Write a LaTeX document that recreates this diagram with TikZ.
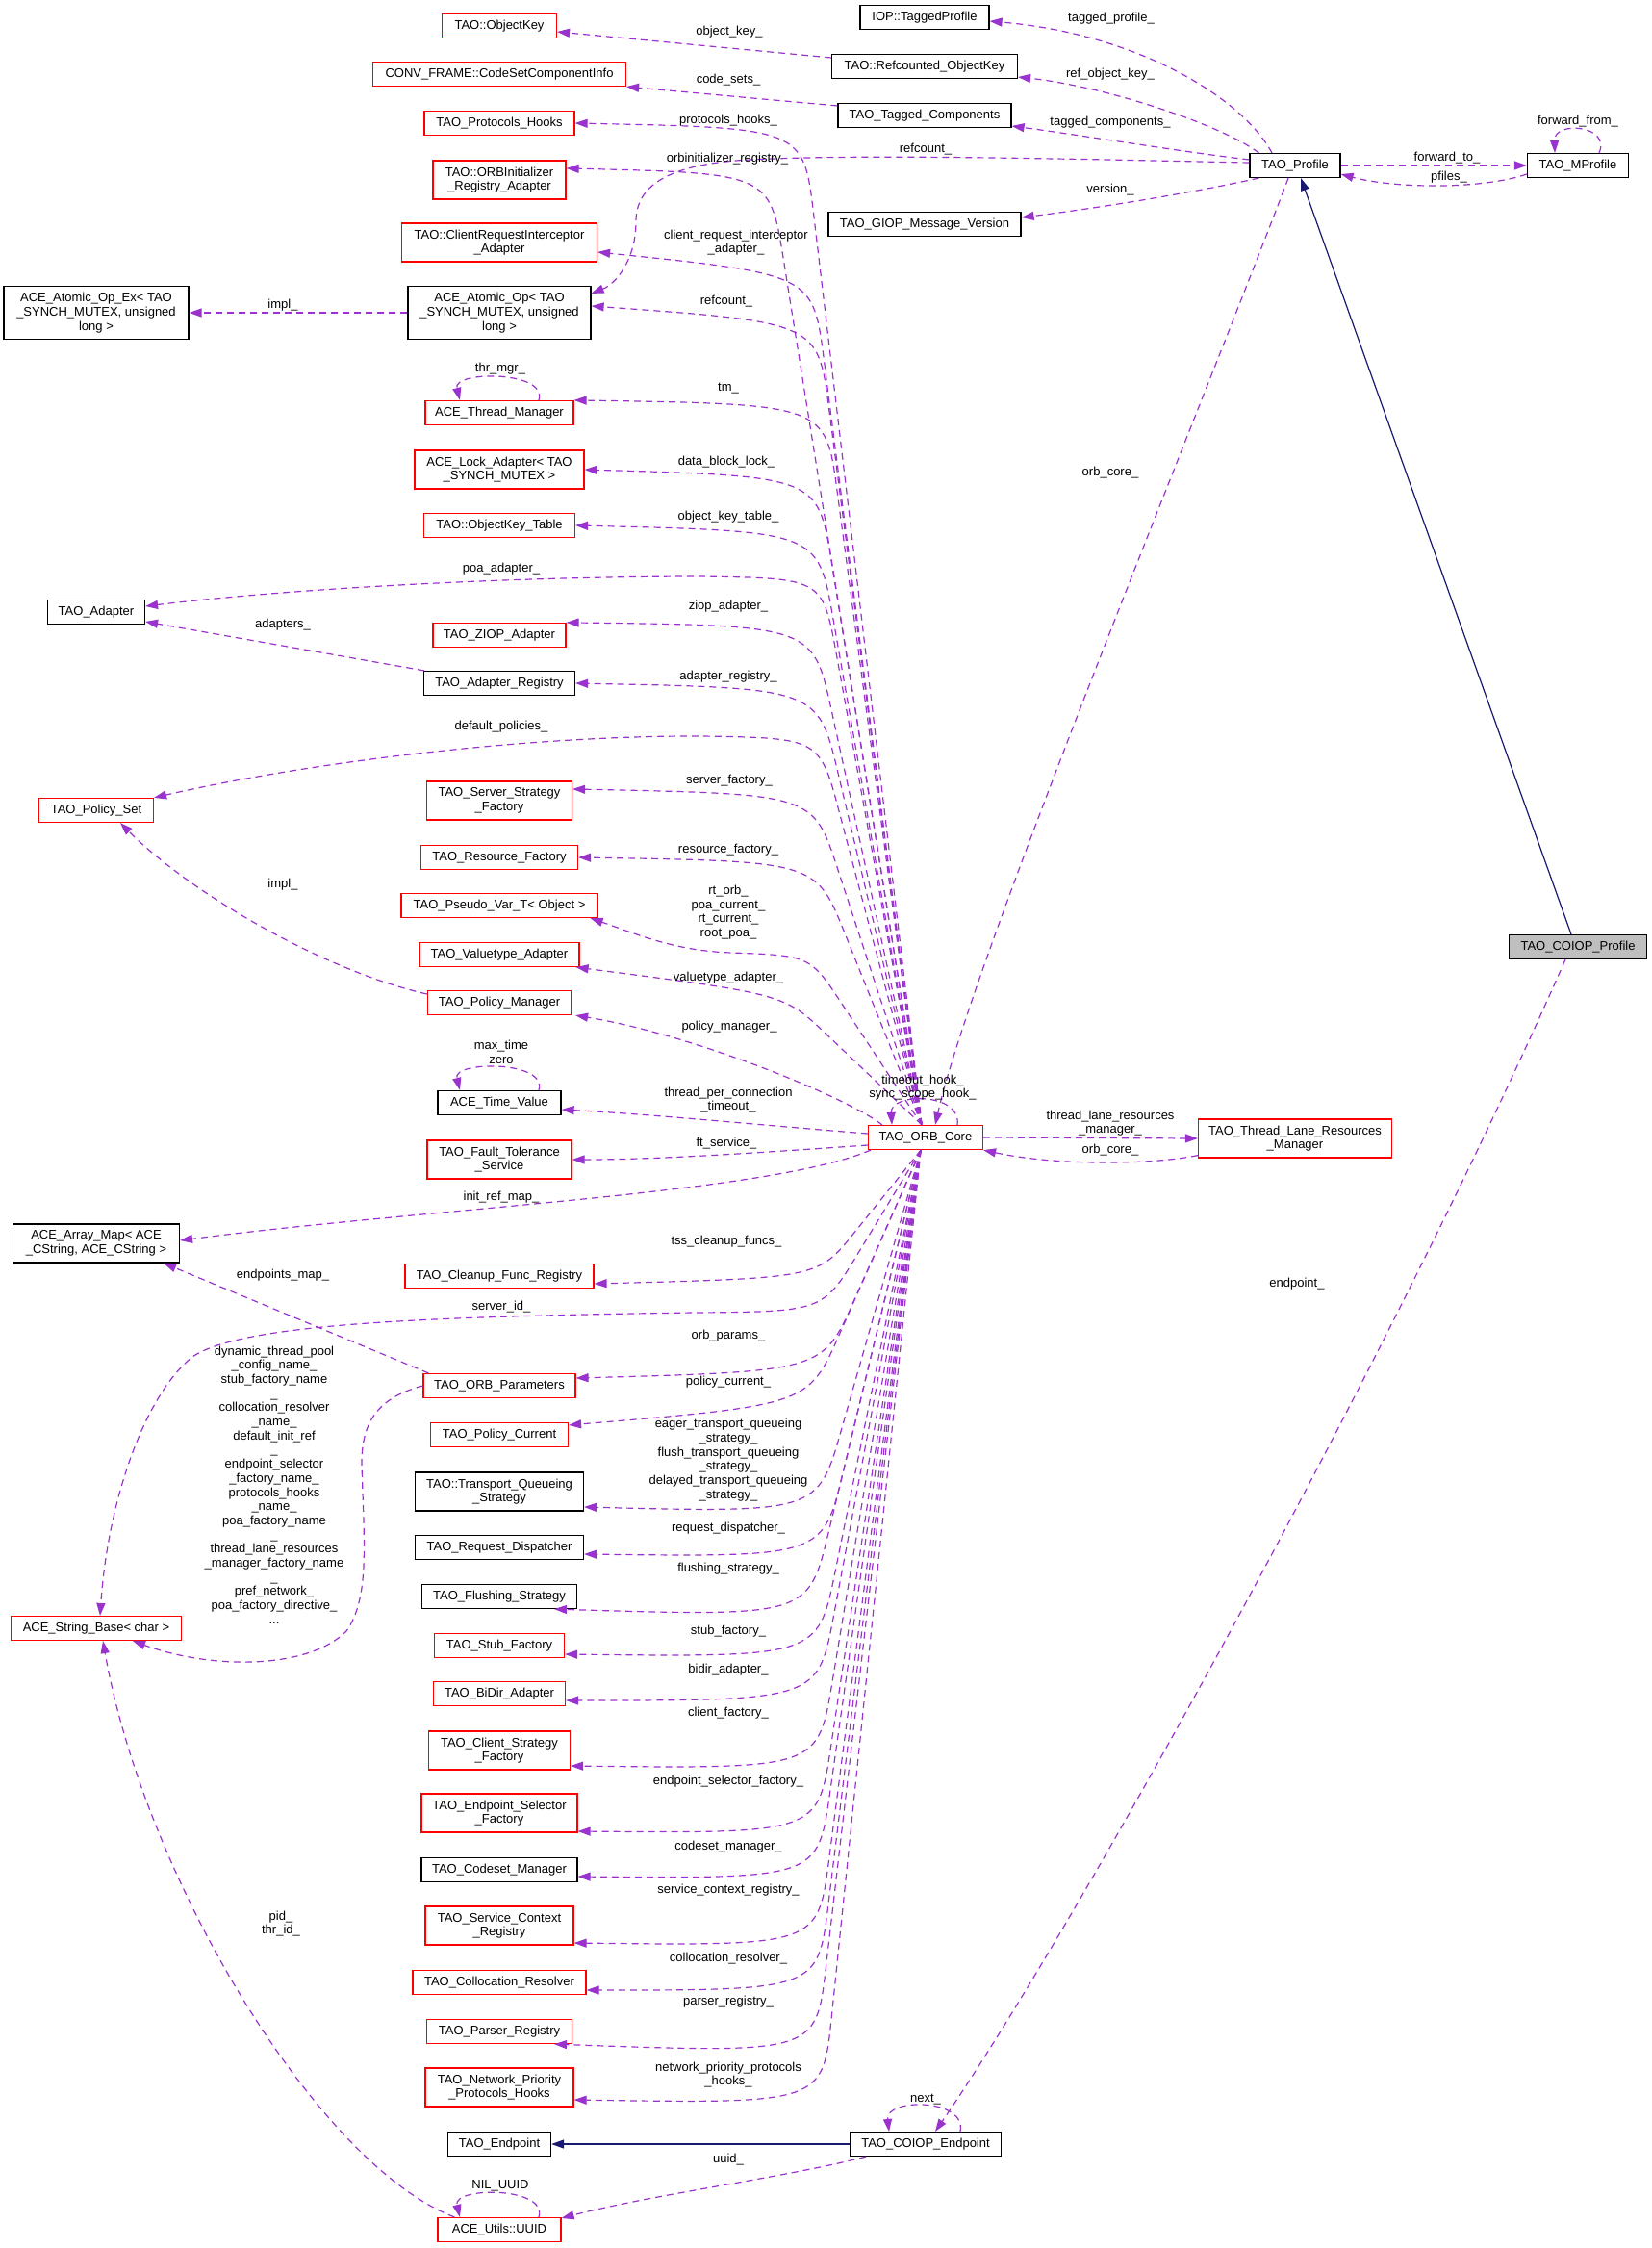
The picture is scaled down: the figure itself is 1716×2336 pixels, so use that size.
\documentclass[tikz,border=0pt]{standalone}
\usepackage{fontspec}
\setmainfont{Liberation Sans}
\usetikzlibrary{arrows.meta,calc}
\definecolor{edgepurple}{HTML}{9A32CD}
\definecolor{midblue}{HTML}{191970}
\definecolor{boxgray}{HTML}{BFBFBF}
\begin{document}
\begin{tikzpicture}[x=1pt,y=-1pt,
  every node/.style={font=\fontsize{13}{14.7}\selectfont},
  cls/.style={draw=black, line width=1.2pt, inner xsep=3pt, inner ysep=2pt, minimum height=25pt, align=center, fill=white},
  redcls/.style={cls, draw=red},
  two/.style={minimum height=40pt},
  three/.style={minimum height=55pt},
  lbl/.style={inner sep=0pt, align=center},
  usearrow/.style={color=edgepurple, line width=1.2pt, dash pattern=on 7pt off 5pt, -{Triangle[length=13pt,width=9pt]}},
  inheritarrow/.style={color=midblue, line width=1.2pt, -{Triangle[length=13pt,width=9pt]}},
]
\fill[white] (0,0) rectangle (1716,2336);
\useasboundingbox (0,0) rectangle (1716,2336);

% ---------- column 2 ----------
\node[redcls, minimum width=119pt] (n_okey) at (519,27) {TAO::ObjectKey};
\node[redcls, minimum width=263pt] (n_codeset) at (519,77) {CONV\_FRAME::CodeSetComponentInfo};
\node[redcls, minimum width=156pt] (n_phooks) at (519,128) {TAO\_Protocols\_Hooks};
\node[redcls, two, minimum width=138pt] (n_orbinit) at (519,187) {TAO::ORBInitializer\\\_Registry\_Adapter};
\node[redcls, two, minimum width=203pt] (n_cri) at (519,252) {TAO::ClientRequestInterceptor\\\_Adapter};
\node[cls, three, minimum width=190pt] (n_atomic) at (519,325) {ACE\_Atomic\_Op< TAO\\\_SYNCH\_MUTEX, unsigned\\long >};
\node[cls, three, minimum width=192pt] (n_atomicex) at (100,325) {ACE\_Atomic\_Op\_Ex< TAO\\\_SYNCH\_MUTEX, unsigned\\long >};
\node[redcls, minimum width=154pt] (n_thrmgr) at (519,429) {ACE\_Thread\_Manager};
\node[redcls, two, minimum width=176pt] (n_lock) at (519,488) {ACE\_Lock\_Adapter< TAO\\\_SYNCH\_MUTEX >};
\node[redcls, minimum width=157pt] (n_oktable) at (519,546) {TAO::ObjectKey\_Table};
\node[cls, minimum width=101pt] (n_adapter) at (100,636) {TAO\_Adapter};
\node[redcls, minimum width=138pt] (n_ziop) at (519,660) {TAO\_ZIOP\_Adapter};
\node[cls, minimum width=157pt] (n_adreg) at (519,710) {TAO\_Adapter\_Registry};
\node[redcls, minimum width=119pt] (n_polset) at (100,842) {TAO\_Policy\_Set};
\node[redcls, two, minimum width=151pt] (n_ssf) at (519,832) {TAO\_Server\_Strategy\\\_Factory};
\node[redcls, minimum width=163pt] (n_resf) at (519,891) {TAO\_Resource\_Factory};
\node[redcls, minimum width=204pt] (n_pseudo) at (519,941) {TAO\_Pseudo\_Var\_T< Object >};
\node[redcls, minimum width=166pt] (n_valuetype) at (519,992) {TAO\_Valuetype\_Adapter};
\node[redcls, minimum width=149pt] (n_polmgr) at (519,1042) {TAO\_Policy\_Manager};
\node[cls, minimum width=128pt] (n_time) at (519,1146) {ACE\_Time\_Value};
\node[redcls, two, minimum width=150pt] (n_ft) at (519,1205) {TAO\_Fault\_Tolerance\\\_Service};
\node[cls, two, minimum width=173pt] (n_arrmap) at (100,1292) {ACE\_Array\_Map< ACE\\\_CString, ACE\_CString >};
\node[redcls, minimum width=196pt] (n_cleanup) at (519,1326) {TAO\_Cleanup\_Func\_Registry};
\node[redcls, minimum width=158pt] (n_orbparams) at (519,1440) {TAO\_ORB\_Parameters};
\node[redcls, minimum width=143pt] (n_polcur) at (519,1491) {TAO\_Policy\_Current};
\node[cls, two, minimum width=175pt] (n_tqs) at (519,1550) {TAO::Transport\_Queueing\\\_Strategy};
\node[cls, minimum width=175pt] (n_reqdisp) at (519,1608) {TAO\_Request\_Dispatcher};
\node[cls, minimum width=161pt] (n_flush) at (519,1659) {TAO\_Flushing\_Strategy};
\node[redcls, minimum width=177pt] (n_strbase) at (100,1692) {ACE\_String\_Base< char >};
\node[redcls, minimum width=135pt] (n_stubf) at (519,1710) {TAO\_Stub\_Factory};
\node[redcls, minimum width=137pt] (n_bidir) at (519,1760) {TAO\_BiDir\_Adapter};
\node[redcls, two, minimum width=147pt] (n_csf) at (519,1819) {TAO\_Client\_Strategy\\\_Factory};
\node[redcls, two, minimum width=162pt] (n_esf) at (519,1884) {TAO\_Endpoint\_Selector\\\_Factory};
\node[cls, minimum width=162pt] (n_codesetmgr) at (519,1943) {TAO\_Codeset\_Manager};
\node[redcls, two, minimum width=154pt] (n_scr) at (519,2001) {TAO\_Service\_Context\\\_Registry};
\node[redcls, minimum width=180pt] (n_colres) at (519,2060) {TAO\_Collocation\_Resolver};
\node[redcls, minimum width=151pt] (n_parser) at (519,2111) {TAO\_Parser\_Registry};
\node[redcls, two, minimum width=154pt] (n_netprio) at (519,2169) {TAO\_Network\_Priority\\\_Protocols\_Hooks};
\node[cls, minimum width=107pt] (n_endpoint) at (519,2228) {TAO\_Endpoint};
\node[redcls, minimum width=128pt] (n_uuid) at (519,2317) {ACE\_Utils::UUID};

% ---------- column 3 ----------
\node[cls, minimum width=134pt] (n_tprof) at (961,18) {IOP::TaggedProfile};
\node[cls, minimum width=193pt] (n_rcokey) at (961,69) {TAO::Refcounted\_ObjectKey};
\node[cls, minimum width=180pt] (n_tcomp) at (961,120) {TAO\_Tagged\_Components};
\node[cls, minimum width=200pt] (n_giop) at (961,233) {TAO\_GIOP\_Message\_Version};
\node[redcls, minimum width=119pt] (n_core) at (962,1182) {TAO\_ORB\_Core};
\node[cls, minimum width=157pt] (n_coiopep) at (962,2228) {TAO\_COIOP\_Endpoint};

% ---------- columns 4, 5 ----------
\node[cls, minimum width=94pt] (n_profile) at (1346,172) {TAO\_Profile};
\node[redcls, two, minimum width=201pt] (n_tlrm) at (1346,1183) {TAO\_Thread\_Lane\_Resources\\\_Manager};
\node[cls, minimum width=105pt] (n_mprofile) at (1640,172) {TAO\_MProfile};
\node[cls, fill=boxgray, minimum width=143pt] (n_coiopprof) at (1640,984) {TAO\_COIOP\_Profile};

\coordinate (cu) at ($(n_core.north)+(-4,0)$);
\coordinate (cd) at ($(n_core.south)+(-5,0)$);

% ---------- ORB_Core edges (upper) ----------
\draw[usearrow] (cu) -- ($(835,133)!90pt!(cu)$) .. controls (835,133) .. (n_phooks.east);
\draw[usearrow] (cu) -- ($(800,180)!90pt!(cu)$) .. controls (800,180) .. ($(n_orbinit.east)+(0,-12)$);
\draw[usearrow] (cu) -- ($(845,285)!90pt!(cu)$) .. controls (845,285) .. ($(n_cri.east)+(0,10)$);
\draw[usearrow] (cu) -- ($(850,335)!90pt!(cu)$) .. controls (850,335) .. ($(n_atomic.east)+(0,-7)$);
\draw[usearrow] (cu) -- ($(858,420)!90pt!(cu)$) .. controls (858,420) .. (n_thrmgr.north east);
\draw[usearrow] (cu) -- ($(850,495)!90pt!(cu)$) .. controls (850,495) .. (n_lock.east);
\draw[usearrow] (cu) -- ($(850,552)!90pt!(cu)$) .. controls (850,552) .. (n_oktable.east);
\draw[usearrow] (cu) -- ($(855,601)!80pt!(cu)$) .. controls (855,601) .. (730,599) .. controls (530,599) and (300,612) .. ($(n_adapter.east)+(0,-6)$);
\draw[usearrow] (cu) -- ($(845,650)!90pt!(cu)$) .. controls (845,650) .. (n_ziop.north east);
\draw[usearrow] (cu) -- ($(850,715)!90pt!(cu)$) .. controls (850,715) .. (n_adreg.east);
\draw[usearrow] (cu) -- ($(852,767)!80pt!(cu)$) .. controls (852,767) .. (730,765) .. controls (560,764) and (330,790) .. (n_polset.north east);
\draw[usearrow] (cu) -- ($(845,825)!80pt!(cu)$) .. controls (845,825) .. ($(n_ssf.east)+(0,-12)$);
\draw[usearrow] (cu) -- ($(848,895)!80pt!(cu)$) .. controls (848,895) .. (n_resf.east);
\draw[usearrow] (cu) -- ($(842,993)!60pt!(cu)$) .. controls (842,993) .. (760,990) .. controls (700,988) and (660,970) .. ($(n_pseudo.south east)+(-8,0)$);
\draw[usearrow] (cu) -- ($(815,1033)!60pt!(cu)$) .. controls (815,1033) .. ($(n_valuetype.south east)+(-4,0)$);
\draw[usearrow] ($(n_core.north west)+(15,0)$) .. controls (880,1140) and (720,1075) .. ($(n_polmgr.south east)+(4,0)$);
\draw[usearrow] ($(n_core.west)+(0,-4)$) .. controls (800,1170) and (680,1158) .. ($(n_time.east)+(0,7)$);
\draw[usearrow] ($(n_core.west)+(0,8)$) .. controls (800,1197) and (690,1205) .. (n_ft.east);
\draw[usearrow] ($(n_core.south west)+(3,0)$) .. controls (800,1240) and (450,1255) .. ($(n_arrmap.east)+(0,-3)$);

% ---------- ORB_Core edges (lower) ----------
\draw[usearrow] (cd) -- ($(850,1328)!60pt!(cd)$) .. controls (850,1328) .. ($(n_cleanup.east)+(0,8)$);
\draw[usearrow] (cd) -- ($(855,1363)!70pt!(cd)$) .. controls (855,1363) .. (720,1364) .. controls (450,1368) and (250,1375) .. (200,1410) .. controls (150,1450) and (112,1560) .. ($(n_strbase.north)+(4,0)$);
\draw[usearrow] (cd) -- ($(855,1425)!80pt!(cd)$) .. controls (855,1425) .. ($(n_orbparams.east)+(0,-8)$);
\draw[usearrow] (cd) -- ($(840,1460)!80pt!(cd)$) .. controls (840,1460) .. ($(n_polcur.north east)+(0,3)$);
\draw[usearrow] (cd) -- ($(850,1572)!90pt!(cd)$) .. controls (850,1572) .. ($(n_tqs.east)+(0,16)$);
\draw[usearrow] (cd) -- ($(855,1618)!90pt!(cd)$) .. controls (855,1618) .. ($(n_reqdisp.east)+(0,7)$);
\draw[usearrow] (cd) -- ($(840,1680)!90pt!(cd)$) .. controls (840,1680) .. ($(n_flush.south east)+(-24,0)$);
\draw[usearrow] (cd) -- ($(850,1722)!90pt!(cd)$) .. controls (850,1722) .. ($(n_stubf.east)+(0,9)$);
\draw[usearrow] (cd) -- ($(850,1767)!90pt!(cd)$) .. controls (850,1767) .. ($(n_bidir.east)+(0,7)$);
\draw[usearrow] (cd) -- ($(850,1838)!90pt!(cd)$) .. controls (850,1838) .. ($(n_csf.east)+(0,16)$);
\draw[usearrow] (cd) -- ($(850,1905)!90pt!(cd)$) .. controls (850,1905) .. ($(n_esf.east)+(0,19)$);
\draw[usearrow] (cd) -- ($(850,1952)!90pt!(cd)$) .. controls (850,1952) .. ($(n_codesetmgr.east)+(0,7)$);
\draw[usearrow] (cd) -- ($(850,2022)!90pt!(cd)$) .. controls (850,2022) .. ($(n_scr.east)+(0,18)$);
\draw[usearrow] (cd) -- ($(850,2068)!90pt!(cd)$) .. controls (850,2068) .. ($(n_colres.east)+(0,8)$);
\draw[usearrow] (cd) -- ($(848,2134)!90pt!(cd)$) .. controls (848,2134) .. ($(n_parser.south east)+(-19,0)$);
\draw[usearrow] (cd) -- ($(855,2186)!90pt!(cd)$) .. controls (855,2186) .. ($(n_netprio.east)+(0,13)$);

% ORB_Core self loop
\draw[usearrow] ($(n_core.north)+(33,0)$) .. controls (1000,1135) and (925,1135) .. ($(n_core.north)+(-35,0)$);
% ORB_Core <-> Thread lane
\draw[usearrow] (n_core.east) -- (n_tlrm.west);
\draw[usearrow] ($(n_tlrm.south west)+(0,-3)$) .. controls (1200,1210) and (1100,1212) .. (n_core.south east);

% ---------- other edges ----------
\draw[usearrow] ($(n_rcokey.west)+(0,-9)$) -- ($(n_okey.east)+(0,6)$);
\draw[usearrow] ($(n_tcomp.west)+(0,-10)$) -- (n_codeset.south east);
\draw[usearrow] ($(n_profile.north)+(-24,0)$) .. controls (1290,100) and (1180,35) .. ($(n_tprof.east)+(0,4)$);
\draw[usearrow] ($(n_profile.north west)+(10,0)$) .. controls (1270,130) and (1150,90) .. ($(n_rcokey.east)+(0,11)$);
\draw[usearrow] ($(n_profile.west)+(0,-6)$) .. controls (1230,158) and (1120,140) .. ($(n_tcomp.east)+(0,11)$);
\draw[usearrow] ($(n_profile.west)+(0,-3)$) .. controls (1100,165) and (900,160) .. (780,166) .. controls (700,170) and (661,190) .. (661,230) .. controls (661,270) and (640,295) .. ($(n_atomic.north east)+(0,8)$);
\draw[usearrow] ($(n_profile.south west)+(10,0)$) .. controls (1240,200) and (1150,215) .. ($(n_giop.east)+(0,-7)$);
\draw[usearrow] ($(n_profile.south)+(-7,0)$) .. controls (1250,420) and (1010,1000) .. ($(n_core.north)+(10,0)$);
\draw[usearrow] (n_profile.east) -- (n_mprofile.west);
\draw[usearrow] ($(n_mprofile.west)+(0,9)$) .. controls (1540,197) and (1450,196) .. ($(n_profile.east)+(0,9)$);
\draw[usearrow] ($(n_mprofile.north)+(22,0)$) .. controls (1675,130) and (1615,125) .. ($(n_mprofile.north)+(-24,0)$);
\draw[inheritarrow] ($(n_coiopprof.north)+(-7,0)$) -- ($(n_profile.south)+(6,0)$);
\draw[usearrow] ($(n_coiopprof.south)+(-13,0)$) .. controls (1450,1400) and (1120,2000) .. ($(n_coiopep.north)+(10,0)$);
\draw[usearrow] ($(n_coiopep.north)+(36,0)$) .. controls (1005,2180) and (920,2180) .. ($(n_coiopep.north)+(-38,0)$);
\draw[inheritarrow] (n_coiopep.west) -- (n_endpoint.east);
\draw[usearrow] ($(n_coiopep.south west)+(17,0)$) .. controls (820,2262) and (680,2280) .. ($(n_uuid.east)+(0,-12)$);
\draw[usearrow] ($(n_uuid.north)+(41,0)$) .. controls (570,2272) and (470,2272) .. ($(n_uuid.north)+(-41,0)$);
\draw[usearrow] ($(n_uuid.north west)+(18,0)$) .. controls (330,2250) and (150,1950) .. ($(n_strbase.south)+(7,0)$);
\draw[usearrow] (n_orbparams.west) .. controls (395,1452) and (376,1475) .. (376,1520) .. controls (378,1600) and (385,1660) .. (360,1695) .. controls (320,1735) and (220,1735) .. ($(n_strbase.south)+(38,0)$);
\draw[usearrow] ($(n_orbparams.north west)+(6,0)$) -- ($(n_arrmap.south east)+(-17,0)$);
\draw[usearrow] (n_atomic.west) -- (n_atomicex.east);
\draw[usearrow] ($(n_adreg.north west)+(1,0)$) -- ($(n_adapter.east)+(0,10)$);
\draw[usearrow] ($(n_polmgr.west)+(0,-9)$) .. controls (340,1010) and (200,930) .. ($(n_polset.south)+(25,0)$);
\draw[usearrow] ($(n_thrmgr.north)+(41,0)$) .. controls (570,385) and (470,385) .. ($(n_thrmgr.north)+(-41,0)$);
\draw[usearrow] ($(n_time.north)+(41,0)$) .. controls (570,1102) and (470,1102) .. ($(n_time.north)+(-41,0)$);

% ---------- labels ----------
\node[lbl] (l1) at (1155,19) {tagged\_profile\_};
\node[lbl] (l2) at (1154,77) {ref\_object\_key\_};
\node[lbl] (l3) at (1154,127) {tagged\_components\_};
\node[lbl] (l4) at (962,155) {refcount\_};
\node[lbl] (l5) at (1154,197) {version\_};
\node[lbl] (l6) at (1154,491) {orb\_core\_};
\node[lbl] (l7) at (1504,164) {forward\_to\_};
\node[lbl] (l8) at (1506,184) {pfiles\_};
\node[lbl] (l9) at (1640,126) {forward\_from\_};
\node[lbl] (l10) at (758,33) {object\_key\_};
\node[lbl] (l11) at (757,83) {code\_sets\_};
\node[lbl] (l12) at (757,125) {protocols\_hooks\_};
\node[lbl] (l13) at (756,165) {orbinitializer\_registry\_};
\node[lbl] (l14) at (765,252) {client\_request\_interceptor\\\_adapter\_};
\node[lbl] (l15) at (755,313) {refcount\_};
\node[lbl] (l16) at (757,404) {tm\_};
\node[lbl] (l17) at (755,480) {data\_block\_lock\_};
\node[lbl] (l18) at (757,537) {object\_key\_table\_};
\node[lbl] (l19) at (521,591) {poa\_adapter\_};
\node[lbl] (l20) at (757,630) {ziop\_adapter\_};
\node[lbl] (l21) at (294,649) {adapters\_};
\node[lbl] (l22) at (757,703) {adapter\_registry\_};
\node[lbl] (l23) at (521,755) {default\_policies\_};
\node[lbl] (l24) at (758,811) {server\_factory\_};
\node[lbl] (l25) at (757,883) {resource\_factory\_};
\node[lbl] (l26) at (757,948) {rt\_orb\_\\poa\_current\_\\rt\_current\_\\root\_poa\_};
\node[lbl] (l27) at (757,1016) {valuetype\_adapter\_};
\node[lbl] (l28) at (294,919) {impl\_};
\node[lbl] (l29) at (758,1067) {policy\_manager\_};
\node[lbl] (l30) at (521,1093) {max\_time\\zero};
\node[lbl] (l31) at (757,1143) {thread\_per\_connection\\\_timeout\_};
\node[lbl] (l32) at (959,1130) {timeout\_hook\_\\sync\_scope\_hook\_};
\node[lbl] (l33) at (1154,1167) {thread\_lane\_resources\\\_manager\_};
\node[lbl] (l34) at (1154,1195) {orb\_core\_};
\node[lbl] (l35) at (755,1188) {ft\_service\_};
\node[lbl] (l36) at (521,1244) {init\_ref\_map\_};
\node[lbl] (l37) at (755,1290) {tss\_cleanup\_funcs\_};
\node[lbl] (l38) at (294,1325) {endpoints\_map\_};
\node[lbl] (l39) at (521,1358) {server\_id\_};
\node[lbl] (l40) at (757,1388) {orb\_params\_};
\node[lbl] (l41) at (285,1543) {dynamic\_thread\_pool\\\_config\_name\_\\stub\_factory\_name\\\_\\collocation\_resolver\\\_name\_\\default\_init\_ref\\\_\\endpoint\_selector\\\_factory\_name\_\\protocols\_hooks\\\_name\_\\poa\_factory\_name\\\_\\thread\_lane\_resources\\\_manager\_factory\_name\\\_\\pref\_network\_\\poa\_factory\_directive\_\\...};
\node[lbl] (l42) at (757,1436) {policy\_current\_};
\node[lbl] (l43) at (757,1517) {eager\_transport\_queueing\\\_strategy\_\\flush\_transport\_queueing\\\_strategy\_\\delayed\_transport\_queueing\\\_strategy\_};
\node[lbl] (l44) at (757,1588) {request\_dispatcher\_};
\node[lbl] (l45) at (757,1630) {flushing\_strategy\_};
\node[lbl] (l46) at (757,1695) {stub\_factory\_};
\node[lbl] (l47) at (757,1735) {bidir\_adapter\_};
\node[lbl] (l48) at (757,1780) {client\_factory\_};
\node[lbl] (l49) at (757,1851) {endpoint\_selector\_factory\_};
\node[lbl] (l50) at (757,1919) {codeset\_manager\_};
\node[lbl] (l51) at (757,1964) {service\_context\_registry\_};
\node[lbl] (l52) at (757,2035) {collocation\_resolver\_};
\node[lbl] (l53) at (757,2080) {parser\_registry\_};
\node[lbl] (l54) at (757,2156) {network\_priority\_protocols\\\_hooks\_};
\node[lbl] (l55) at (1348,1334) {endpoint\_};
\node[lbl] (l56) at (962,2182) {next\_};
\node[lbl] (l57) at (757,2244) {uuid\_};
\node[lbl] (l58) at (520,2271) {NIL\_UUID};
\node[lbl] (l59) at (292,1999) {pid\_\\thr\_id\_};
\node[lbl] (l60) at (294,317) {impl\_};
\node[lbl] (l61) at (520,383) {thr\_mgr\_};
\end{tikzpicture}
\end{document}
